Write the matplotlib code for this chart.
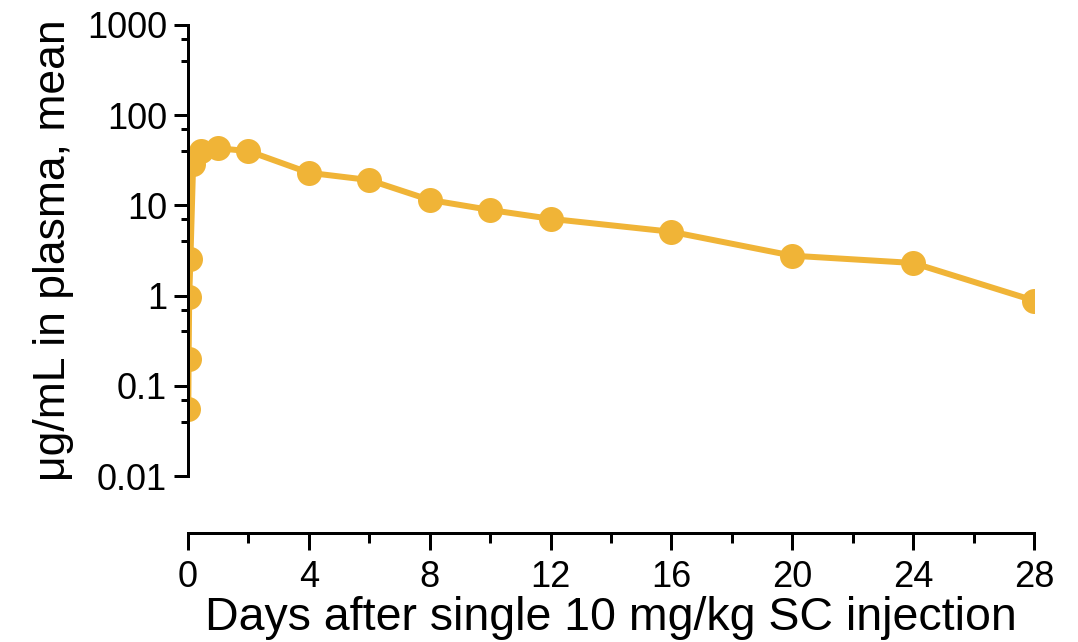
import matplotlib
matplotlib.use("Agg")
import matplotlib.pyplot as plt
import numpy as np
from matplotlib.ticker import FixedLocator, NullFormatter

plt.rcParams['font.family'] = ['Liberation Sans', 'DejaVu Sans']

# Mean plasma concentration after a single 10 mg/kg SC dose
days = [0.01, 0.02, 0.04, 0.08, 0.17, 0.42, 1, 2, 4, 6, 8, 10, 12, 16, 20, 24, 28]
conc = [0.056, 0.20, 0.97, 2.55, 29, 40, 43, 40, 23.0, 19.1, 11.5, 8.9, 7.1, 5.1, 2.77, 2.30, 0.88]

x_ticks = [0, 4, 8, 12, 16, 20, 24, 28]
y_ticks = [0.01, 0.1, 1, 10, 100, 1000]
y_labels = ['0.01', '0.1', '1', '10', '100', '1000']

COLOR = '#F0B437'
PX = 72 / 100  # points per pixel at dpi 100

fig = plt.figure(figsize=(10.78, 6.42), dpi=100)
ax = fig.add_axes([188 / 1078, 1 - 476 / 642, (1034 - 188) / 1078, (476 - 25) / 642])

ax.plot(days, conc, color=COLOR, lw=6 * PX, marker='o', ms=25 * PX,
        markeredgewidth=0, solid_joinstyle='round')

ax.set_yscale('log')
ax.set_xlim(0, 28)
ax.set_ylim(0.01, 1000)

ax.set_xticks(x_ticks)
ax.set_xticks(np.arange(2, 28, 4), minor=True)
ax.set_yticks(y_ticks)
ax.set_yticklabels(y_labels)
minor_y = [m * 10.0 ** e for e in range(-2, 3) for m in (4, 7)]
ax.yaxis.set_minor_locator(FixedLocator(minor_y))
ax.yaxis.set_minor_formatter(NullFormatter())

for side in ('top', 'right'):
    ax.spines[side].set_visible(False)
ax.spines['left'].set_linewidth(3 * PX)
ax.spines['bottom'].set_linewidth(3 * PX)
ax.spines['bottom'].set_position(('outward', 57 * PX))

ax.tick_params(axis='both', which='major', width=3 * PX, labelsize=26, color='black')
ax.tick_params(axis='x', which='major', length=17 * PX, pad=7)
ax.tick_params(axis='x', which='minor', length=10 * PX, width=3 * PX)
ax.tick_params(axis='y', which='major', length=14 * PX, pad=5)
ax.tick_params(axis='y', which='minor', length=7 * PX, width=3 * PX)

ax.set_xlabel('Days after single 10 mg/kg SC injection', fontsize=33.5, labelpad=1)
ax.set_ylabel('\u03bcg/mL in plasma, mean', fontsize=32, labelpad=9)

fig.savefig('out.png', dpi=100)
